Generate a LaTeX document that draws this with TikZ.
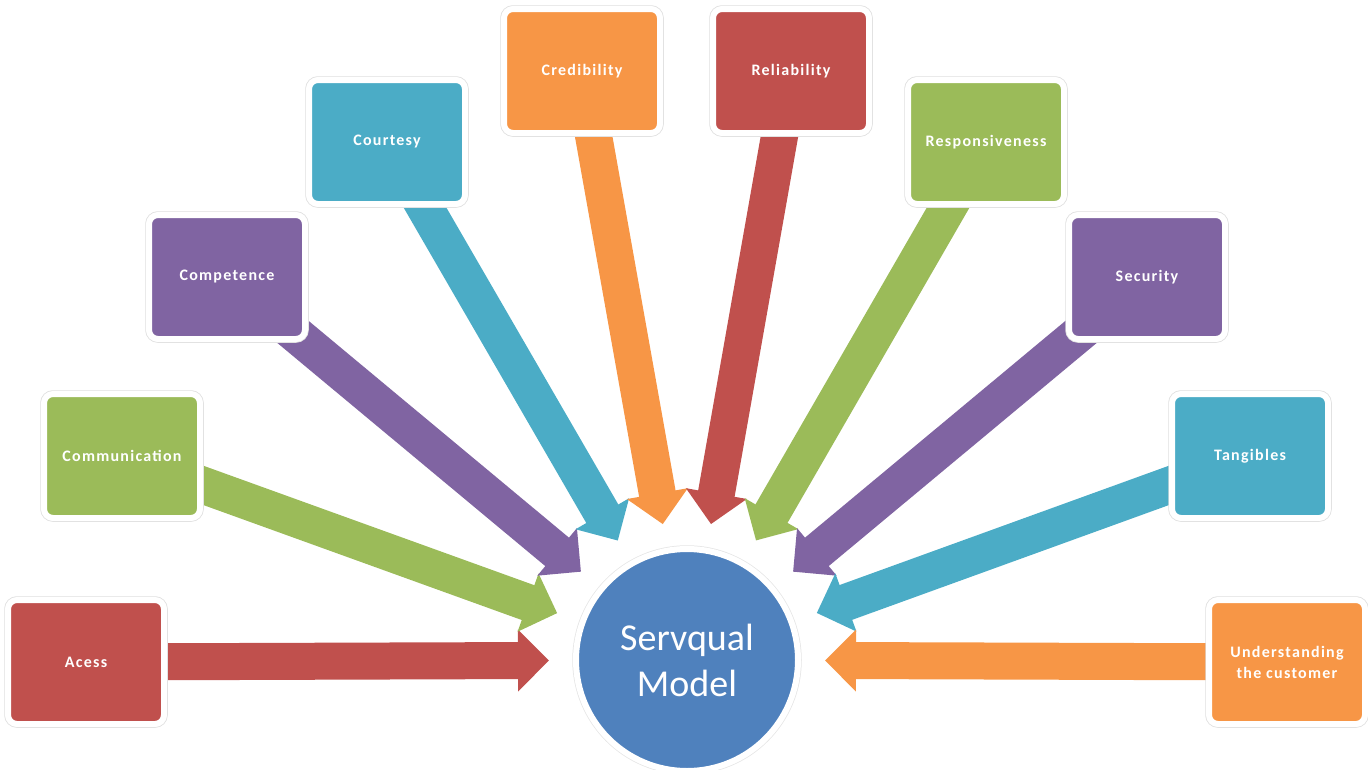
\documentclass[tikz,border=0pt]{standalone}
\usepackage{fontspec}
\setmainfont{Carlito}
\newfontfamily\factorfont[LetterSpace=8]{Carlito}
\usetikzlibrary{arrows.meta,calc,positioning}

\definecolor{offred}{HTML}{C0504D}
\definecolor{offgreen}{HTML}{9BBB59}
\definecolor{offpurple}{HTML}{8064A2}
\definecolor{offteal}{HTML}{4BACC6}
\definecolor{offorange}{HTML}{F79646}
\definecolor{offblue}{HTML}{4F81BD}

\begin{document}
\begin{tikzpicture}
[x=1pt, y=-1pt,
% STYLES
% The factor style is used to draw the dimensions of the model
factor/.style={rectangle, rounded corners=9pt, draw=white, line width=6pt,
  preaction={draw=black!13, line width=7.5pt},
  minimum width=156pt, minimum height=124pt, inner sep=2pt, align=center,
  text=white, font=\factorfont\bfseries\fontsize{16}{21}\selectfont},
% The model style is used to draw the centre of the picture
model/.style={circle, fill=offblue, draw=white, line width=6pt,
  preaction={draw=black!10, line width=7.5pt},
  minimum size=222pt, inner sep=0pt, align=center, text=white,
  font=\fontsize{38}{46}\selectfont},
% The flow style is used to draw the block arrows
flow/.style={line width=37pt, draw=#1, -{Triangle[length=31pt, width=60pt]}}]

\useasboundingbox (0,0) rectangle (1368,769);

% Draw centre
\node [model] (servqual) at (687,660) {Servqual\\Model};

% tips of the arrows
\coordinate (tip-acess) at ($(servqual.center)!138pt!(86,662)$);
\coordinate (tip-communication) at ($(servqual.center)!138pt!(122,456)$);
\coordinate (tip-competence) at ($(servqual.center)!138pt!(227,277)$);
\coordinate (tip-courtesy) at ($(servqual.center)!138pt!(387,142)$);
\coordinate (tip-credibility) at ($(servqual.center)!138pt!(582,71)$);
\coordinate (tip-reliability) at ($(servqual.center)!138pt!(791,71)$);
\coordinate (tip-responsiveness) at ($(servqual.center)!138pt!(986,142)$);
\coordinate (tip-security) at ($(servqual.center)!138pt!(1147,277)$);
\coordinate (tip-tangibles) at ($(servqual.center)!138pt!(1250,456)$);
\coordinate (tip-understanding) at ($(servqual.center)!138pt!(1287,662)$);

% Draw the arrows first, so the boxes hide their tails
\draw [flow=offred] (86,662) coordinate (from-acess) -- (tip-acess);
\draw [flow=offgreen] (122,456) coordinate (from-communication) -- (tip-communication);
\draw [flow=offpurple] (227,277) coordinate (from-competence) -- (tip-competence);
\draw [flow=offteal] (387,142) coordinate (from-courtesy) -- (tip-courtesy);
\draw [flow=offorange] (582,71) coordinate (from-credibility) -- (tip-credibility);
\draw [flow=offred] (791,71) coordinate (from-reliability) -- (tip-reliability);
\draw [flow=offgreen] (986,142) coordinate (from-responsiveness) -- (tip-responsiveness);
\draw [flow=offpurple] (1147,277) coordinate (from-security) -- (tip-security);
\draw [flow=offteal] (1250,456) coordinate (from-tangibles) -- (tip-tangibles);
\draw [flow=offorange] (1287,662) coordinate (from-understanding) -- (tip-understanding);

% Draw factors
\node [factor, fill=offred] (acess) at (from-acess) {Acess};
\node [factor, fill=offgreen] (communication) at (from-communication) {Communication};
\node [factor, fill=offpurple] (competence) at (from-competence) {Competence};
\node [factor, fill=offteal] (courtesy) at (from-courtesy) {Courtesy};
\node [factor, fill=offorange] (credibility) at (from-credibility) {Credibility};
\node [factor, fill=offred] (reliability) at (from-reliability) {Reliability};
\node [factor, fill=offgreen] (responsiveness) at (from-responsiveness) {Responsiveness};
\node [factor, fill=offpurple] (security) at (from-security) {Security};
\node [factor, fill=offteal] (tangibles) at (from-tangibles) {Tangibles};
\node [factor, fill=offorange] (understanding) at (from-understanding) {Understanding\\the customer};

\end{tikzpicture}
\end{document}
